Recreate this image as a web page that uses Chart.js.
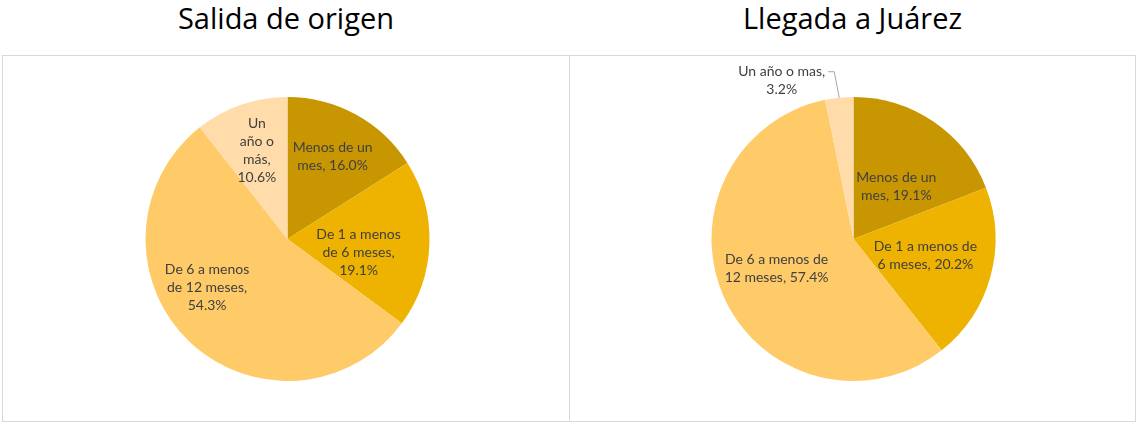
<!DOCTYPE html>
<html>
<head>
<meta charset="utf-8">
<script src="https://cdn.jsdelivr.net/npm/chart.js@4"></script>
<style>
  body { margin: 0; background: #fff; font-family: Lato, sans-serif; }
  .title { position: absolute; top: 0; height: 40px; line-height: 36px; text-align: center; font-family: "Open Sans", sans-serif; font-size: 29px; color: #000; }
  .box { position: absolute; top: 55px; height: 367px; border: 1px solid #d9d9d9; box-sizing: border-box; }
</style>
</head>
<body>
<div class="title" style="left:2px;width:568px;">Salida de origen</div>
<div class="title" style="left:569px;width:567px;">Llegada a Juárez</div>
<div class="box" style="left:2px;width:568px;"><canvas id="chart-1" width="566" height="365"></canvas></div>
<div class="box" style="left:569px;width:567px;"><canvas id="chart-2" width="565" height="365"></canvas></div>
<script>
const categoriasSalida = ['Menos de un mes', 'De 1 a menos de 6 meses', 'De 6 a menos de 12 meses', 'Un año o más'];
const valoresSalida = [16.0, 19.1, 54.3, 10.6];
const etiquetasSalida = [['Menos de un', 'mes, 16.0%'], ['De 1 a menos', 'de 6 meses,', '19.1%'], ['De 6 a menos', 'de 12 meses,', '54.3%'], ['Un', 'año o', 'más,', '10.6%']];

const categoriasLlegada = ['Menos de un mes', 'De 1 a menos de 6 meses', 'De 6 a menos de 12 meses', 'Un año o mas'];
const valoresLlegada = [19.1, 20.2, 57.4, 3.2];
const etiquetasLlegada = [['Menos de un', 'mes, 19.1%'], ['De 1 a menos de', '6 meses, 20.2%'], ['De 6 a menos de', '12 meses, 57.4%'], ['Un año o mas,', '3.2%']];

const colores = ['#C89600', '#EEB200', '#FFCA68', '#FFDCAA'];

// draws the data labels inside the slices, or outside with a leader line
const labelPlugin = {
    id: 'sliceLabels',
    afterDatasetsDraw(chart, args, opts) {
        const ctx = chart.ctx;
        const arcs = chart.getDatasetMeta(0).data;
        ctx.save();
        ctx.font = '14px Lato';
        ctx.fillStyle = '#404040';
        ctx.textBaseline = 'middle';
        const lh = 18;
        arcs.forEach((arc, i) => {
            const lines = opts.lines[i];
            const mid = (arc.startAngle + arc.endAngle) / 2 + opts.shift[i] * Math.PI / 180;
            const r = arc.outerRadius;
            const f = opts.frac[i];
            if (f > 0) {
                ctx.textAlign = 'center';
                const x = arc.x + Math.cos(mid) * r * f;
                const y = arc.y + Math.sin(mid) * r * f;
                const y0 = y - (lines.length - 1) * lh / 2;
                lines.forEach((t, k) => ctx.fillText(t, x, y0 + k * lh));
            } else {
                const px = arc.x + Math.cos(mid) * r;
                const py = arc.y + Math.sin(mid) * r;
                const ex = px - 5, ey = py - 26;
                const hx = ex - 6;
                ctx.strokeStyle = '#a6a6a6';
                ctx.lineWidth = 1;
                ctx.beginPath();
                ctx.moveTo(px, py);
                ctx.lineTo(ex, ey);
                ctx.lineTo(hx, ey);
                ctx.stroke();
                const w = Math.max(...lines.map(t => ctx.measureText(t).width));
                const cx = hx - 3 - w / 2;
                ctx.textAlign = 'center';
                lines.forEach((t, k) => ctx.fillText(t, cx, ey + k * lh));
            }
        });
        ctx.restore();
    }
};

function makePie(id, cats, vals, lines, frac, shift, pad) {
    new Chart(document.getElementById(id), {
        type: 'pie',
        data: {
            labels: cats,
            datasets: [{
                data: vals,
                backgroundColor: colores,
                borderWidth: 0
            }]
        },
        options: {
            responsive: false,
            animation: false,
            layout: { padding: pad },
            plugins: {
                legend: { display: false },
                tooltip: { enabled: false },
                sliceLabels: { lines: lines, frac: frac, shift: shift }
            }
        },
        plugins: [labelPlugin]
    });
}

makePie('chart-1', categoriasSalida, valoresSalida, etiquetasSalida, [0.66, 0.51, 0.66, 0.66], [0, 9, 15, 0], { top: 41, bottom: 40, left: 3, right: 0 });
makePie('chart-2', categoriasLlegada, valoresLlegada, etiquetasLlegada, [0.475, 0.52, 0.58, 0], [5, -2, 4, 0], { top: 41, bottom: 40, left: 2, right: 0 });
</script>
</body>
</html>
